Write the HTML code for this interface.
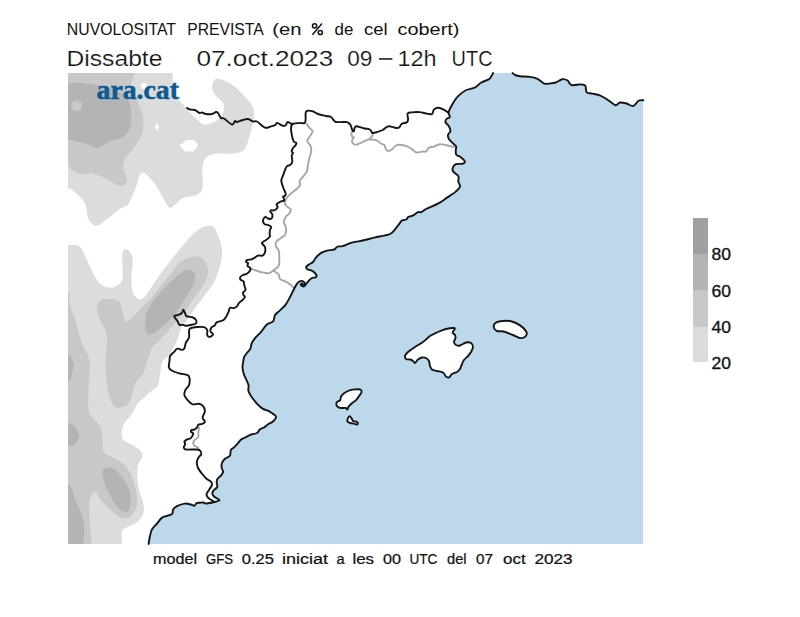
<!DOCTYPE html>
<html><head><meta charset="utf-8"><style>
html,body{margin:0;padding:0;background:#fff;}
body{width:800px;height:617px;position:relative;overflow:hidden;font-family:"Liberation Sans",sans-serif;}
svg{position:absolute;left:0;top:0;}
</style></head><body>
<svg width="800" height="617" viewBox="0 0 800 617">
<defs><clipPath id="mc"><rect x="68" y="73" width="575.4" height="471"/></clipPath></defs>
<rect x="68" y="73" width="575.4" height="471" fill="#fff"/>
<g clip-path="url(#mc)">
<path d="M68.0,73.0 C68.0,73.0 50.0,55.0 50.0,55.0 C50.0,55.0 172.5,55.0 172.5,55.0 C172.5,55.0 172.3,67.3 172.5,73.0 C172.7,78.7 172.6,85.2 173.5,89.4 C174.4,93.6 175.3,94.4 177.8,98.0 C180.3,101.6 184.9,106.9 188.5,110.8 C192.1,114.7 196.3,119.2 199.2,121.5 C202.0,123.8 202.4,125.0 205.6,124.7 C208.8,124.4 215.5,121.7 218.5,119.4 C221.5,117.1 223.1,113.7 223.8,110.8 C224.5,107.9 224.4,105.1 222.8,102.3 C221.2,99.5 216.0,96.6 214.2,93.7 C212.4,90.8 211.8,87.6 212.1,85.1 C212.4,82.6 214.2,79.4 216.3,78.7 C218.4,78.0 221.7,79.4 224.9,80.8 C228.1,82.2 232.4,84.8 235.6,87.3 C238.8,89.8 241.3,92.6 244.2,95.8 C247.0,99.0 251.1,102.9 252.7,106.5 C254.3,110.1 254.2,112.9 253.8,117.2 C253.5,121.5 252.2,126.8 250.6,132.2 C249.0,137.6 247.4,145.8 244.2,149.4 C241.0,153.0 236.0,152.9 231.3,153.6 C226.7,154.3 220.6,152.9 216.3,153.6 C212.0,154.3 207.9,155.4 205.6,157.9 C203.3,160.4 202.9,163.6 202.4,168.6 C201.9,173.6 203.4,183.7 202.6,188.0 C201.8,192.3 199.5,193.2 197.5,194.6 C195.5,196.0 193.2,195.8 190.6,196.5 C188.0,197.2 185.1,196.7 181.9,198.5 C178.7,200.3 174.1,206.7 171.5,207.6 C168.9,208.5 169.0,207.4 166.4,203.7 C163.8,200.0 159.5,190.6 156.0,185.6 C152.5,180.6 148.2,175.8 145.6,173.9 C143.0,172.0 141.9,172.0 140.4,173.9 C138.9,175.8 138.4,180.6 136.5,185.6 C134.6,190.6 131.5,199.8 128.7,203.7 C125.9,207.6 123.4,206.3 119.7,208.9 C116.0,211.5 110.6,216.5 106.7,219.3 C102.8,222.1 99.3,225.8 96.3,225.8 C93.3,225.8 90.2,222.6 88.5,219.3 C86.8,216.1 87.0,209.6 86.0,206.3 C85.0,203.0 84.4,202.0 82.5,199.6 C80.6,197.2 77.0,193.6 74.6,191.7 C72.2,189.8 72.1,188.9 68.0,188.4 C63.9,187.9 50.0,188.4 50.0,188.4 C50.0,188.4 50.0,55.0 50.0,55.0 C50.0,55.0 68.0,73.0 68.0,73.0 Z" fill="#dcdcdc"/>
<path d="M68.0,73.0 C68.0,73.0 50.0,55.0 50.0,55.0 C50.0,55.0 134.6,55.0 134.6,55.0 C134.6,55.0 134.9,69.1 134.6,73.0 C134.3,76.9 133.4,75.8 132.8,78.4 C132.2,81.0 130.2,84.8 131.1,88.8 C132.0,92.8 136.0,98.1 138.0,102.7 C140.0,107.3 142.4,111.7 143.2,116.6 C143.9,121.5 143.2,128.3 142.5,132.2 C141.8,136.1 140.1,137.4 138.7,140.0 C137.3,142.6 135.9,145.4 134.0,148.0 C132.1,150.6 129.2,153.5 127.5,155.7 C125.8,157.9 124.2,158.9 123.6,161.4 C122.9,163.9 123.1,168.0 123.6,170.4 C124.1,172.8 126.0,173.8 126.4,176.0 C126.8,178.2 127.1,182.3 125.8,183.9 C124.5,185.5 121.6,186.3 118.5,185.6 C115.4,184.8 111.3,181.4 107.2,179.4 C103.1,177.4 98.2,174.7 93.7,173.8 C89.2,172.9 84.0,174.6 80.2,173.8 C76.5,173.0 73.2,170.5 71.2,169.2 C69.2,167.9 71.5,166.5 68.0,166.0 C64.5,165.5 50.0,166.0 50.0,166.0 C50.0,166.0 50.0,55.0 50.0,55.0 C50.0,55.0 68.0,73.0 68.0,73.0 Z" fill="#c8c8c8"/>
<path d="M68.0,83.6 C72.8,83.4 74.1,82.4 79.1,82.7 C84.1,83.0 91.8,84.0 98.1,85.3 C104.4,86.6 112.3,88.2 117.2,90.5 C122.1,92.8 125.3,95.7 127.6,99.2 C129.9,102.7 130.7,106.7 131.1,111.3 C131.5,115.9 131.6,122.7 130.2,127.0 C128.8,131.3 125.7,135.1 122.4,137.4 C119.1,139.7 114.3,139.1 110.3,140.8 C106.2,142.5 101.9,147.2 98.1,147.8 C94.3,148.4 91.7,145.5 87.7,144.3 C83.7,143.1 77.2,141.5 73.9,140.8 C70.6,140.1 72.0,140.1 68.0,140.0 C64.0,139.9 50.0,140.0 50.0,140.0 C50.0,140.0 50.0,83.6 50.0,83.6 C50.0,83.6 63.1,83.8 68.0,83.6 Z" fill="#b4b4b4"/>
<circle cx="76.8" cy="105.8" r="5.5" fill="#c8c8c8"/>
<polygon points="179.6,145.5 186.6,140.1 194.3,140.1 198.1,145.5 193.5,151.4 185,151.4" fill="#fff"/>
<circle cx="143.8" cy="86" r="3" fill="#fff"/>
<rect x="156" y="124" width="2" height="6" fill="#fff"/><rect x="155" y="126" width="4" height="2" fill="#fff"/>
<path d="M68.0,245.2 C72.9,245.4 76.5,244.3 79.5,246.5 C82.5,248.7 83.2,252.8 86.0,258.2 C88.8,263.6 93.1,274.2 96.3,279.0 C99.5,283.8 102.4,285.4 105.4,286.7 C108.4,288.0 111.7,288.0 114.5,286.7 C117.3,285.4 121.0,284.2 122.3,279.0 C123.6,273.8 121.7,260.6 122.3,255.6 C122.9,250.6 124.4,248.7 126.1,249.1 C127.8,249.5 131.7,253.2 132.6,258.2 C133.5,263.2 131.1,272.9 131.3,279.0 C131.5,285.1 132.0,291.3 133.9,294.5 C135.8,297.7 138.9,301.4 143.0,298.4 C147.1,295.4 153.0,284.0 158.6,276.4 C164.2,268.8 170.6,260.4 176.7,253.0 C182.8,245.7 189.7,236.8 194.9,232.3 C200.1,227.8 204.5,226.2 207.9,225.8 C211.3,225.4 213.2,225.2 215.6,229.7 C218.0,234.2 222.1,244.8 222.1,253.0 C222.1,261.2 218.4,272.1 215.6,279.0 C212.8,285.9 209.2,289.0 205.3,294.5 C201.4,300.0 195.5,307.4 192.3,312.0 C189.1,316.6 187.7,319.7 186.0,322.0 C184.3,324.3 183.4,322.8 181.9,325.9 C180.4,329.0 179.2,335.6 177.0,340.5 C174.8,345.4 171.3,351.5 168.9,355.0 C166.5,358.5 163.9,358.3 162.4,361.6 C160.9,364.9 160.8,370.6 160.0,374.6 C159.2,378.7 159.4,382.9 157.6,385.9 C155.8,388.9 152.1,390.0 149.4,392.4 C146.7,394.8 143.1,398.4 141.3,400.0 C139.5,401.6 140.2,399.6 138.5,402.0 C136.8,404.4 133.7,410.9 131.3,414.5 C128.9,418.1 125.8,420.8 124.2,423.4 C122.7,426.0 122.2,427.4 122.0,430.0 C121.8,432.6 121.0,436.6 122.8,439.2 C124.6,441.8 129.9,443.3 132.9,445.3 C135.9,447.3 139.5,449.3 141.0,451.3 C142.5,453.3 142.5,455.0 142.0,457.4 C141.5,459.8 138.7,460.8 138.0,465.5 C137.3,470.2 137.2,479.7 138.0,485.8 C138.8,491.9 142.2,497.3 143.1,502.0 C143.9,506.7 144.1,510.7 143.1,514.1 C142.1,517.5 140.1,519.8 137.0,522.2 C133.9,524.6 127.3,526.6 124.8,528.3 C122.3,530.0 122.3,529.8 121.8,532.4 C121.3,535.0 121.8,539.4 121.8,544.0 C121.8,548.6 121.8,560.0 121.8,560.0 C121.8,560.0 50.0,560.0 50.0,560.0 C50.0,560.0 68.0,544.0 68.0,544.0 C68.0,544.0 50.0,560.0 50.0,560.0 C50.0,560.0 50.0,245.2 50.0,245.2 C50.0,245.2 63.1,245.0 68.0,245.2 Z" fill="#dcdcdc"/>
<path d="M181.9,260.8 C186.9,257.8 195.8,255.6 200.1,256.9 C204.4,258.2 207.0,264.5 207.9,268.6 C208.8,272.7 207.5,276.8 205.3,281.5 C203.1,286.2 198.8,291.5 194.9,297.1 C191.0,302.7 186.2,309.8 181.9,315.3 C177.6,320.8 172.5,325.9 168.8,330.0 C165.1,334.1 162.9,336.2 159.9,339.6 C156.9,343.0 153.7,345.0 151.0,350.3 C148.3,355.6 146.5,366.1 143.8,371.7 C141.1,377.3 137.3,379.1 134.9,384.2 C132.5,389.2 132.0,398.1 129.6,402.0 C127.2,405.9 123.3,406.8 120.6,407.4 C117.9,408.0 115.6,408.3 113.5,405.6 C111.4,402.9 109.5,398.1 108.2,391.3 C106.9,384.5 105.7,372.3 105.5,364.6 C105.3,356.9 106.8,349.8 107.0,345.0 C107.2,340.2 106.9,338.3 106.5,335.6 C106.1,332.9 105.6,331.1 104.6,328.8 C103.6,326.5 102.0,325.4 100.7,322.0 C99.4,318.6 97.0,311.7 96.8,308.3 C96.6,304.9 98.2,303.0 99.7,301.5 C101.2,300.0 103.2,299.4 105.6,299.1 C108.0,298.8 111.9,298.9 114.3,299.6 C116.7,300.3 118.7,301.1 120.2,303.5 C121.7,305.9 122.2,311.1 123.1,314.2 C124.0,317.3 124.2,321.2 125.5,322.0 C126.8,322.8 129.0,320.5 130.9,319.0 C132.8,317.5 134.4,315.6 136.7,313.2 C139.0,310.8 142.3,306.8 144.5,304.5 C146.7,302.2 147.3,302.7 150.0,299.6 C152.7,296.5 157.2,290.1 160.5,286.0 C163.8,281.9 166.4,279.2 170.0,275.0 C173.6,270.8 176.9,263.8 181.9,260.8 Z" fill="#c8c8c8"/>
<path d="M68.0,292.0 C71.2,293.8 68.8,299.7 69.5,303.0 C70.2,306.3 71.0,309.2 72.0,312.0 C73.0,314.8 73.6,315.1 75.2,320.0 C76.8,324.9 79.0,334.6 81.4,341.4 C83.8,348.2 88.2,352.7 89.4,361.0 C90.6,369.3 88.5,382.7 88.5,391.3 C88.5,399.9 87.3,406.6 89.4,412.7 C91.5,418.8 98.6,421.6 101.0,428.0 C103.4,434.4 101.0,446.1 103.6,451.3 C106.2,456.5 112.8,456.7 116.7,459.4 C120.6,462.1 123.9,463.1 126.9,467.5 C130.0,471.9 133.3,479.4 135.0,485.8 C136.7,492.2 138.0,500.8 137.0,506.0 C136.0,511.2 131.9,515.5 128.9,517.2 C125.9,518.9 123.2,518.7 118.8,516.2 C114.4,513.7 106.4,506.1 102.5,502.0 C98.6,497.9 97.5,492.6 95.5,491.9 C93.5,491.2 91.4,494.9 90.4,497.9 C89.4,500.9 89.2,502.4 89.4,510.1 C89.6,517.8 91.1,535.7 91.4,544.0 C91.7,552.3 91.4,560.0 91.4,560.0 C91.4,560.0 50.0,560.0 50.0,560.0 C50.0,560.0 68.0,544.0 68.0,544.0 C68.0,544.0 50.0,560.0 50.0,560.0 C50.0,560.0 50.0,292.0 50.0,292.0 C50.0,292.0 64.8,290.2 68.0,292.0 Z" fill="#c8c8c8"/>
<path d="M187.1,269.9 C190.1,269.5 193.8,271.4 194.9,273.8 C196.0,276.2 195.3,279.8 193.6,284.1 C191.9,288.4 187.8,294.5 184.5,299.7 C181.2,304.9 178.3,310.4 174.1,315.3 C169.9,320.2 163.0,326.1 159.2,329.2 C155.3,332.3 153.2,333.5 151.0,334.0 C148.8,334.5 147.1,334.3 146.2,332.4 C145.3,330.5 145.1,326.5 145.4,322.7 C145.7,318.9 145.6,314.4 147.8,309.7 C150.0,305.0 153.8,300.1 158.6,294.5 C163.4,288.9 171.9,280.5 176.7,276.4 C181.4,272.3 184.1,270.3 187.1,269.9 Z" fill="#b4b4b4"/>
<path d="M68.0,353.9 C71.9,355.4 72.8,359.2 73.4,362.8 C74.0,366.4 72.5,372.3 71.6,375.3 C70.7,378.3 71.6,379.7 68.0,380.6 C64.4,381.5 50.0,380.6 50.0,380.6 C50.0,380.6 50.0,353.9 50.0,353.9 C50.0,353.9 64.1,352.4 68.0,353.9 Z" fill="#b4b4b4"/>
<path d="M68.0,423.0 C71.9,423.4 71.8,424.1 73.6,425.7 C75.3,427.3 77.7,430.4 78.5,432.5 C79.3,434.6 79.3,436.3 78.5,438.4 C77.7,440.5 75.3,443.9 73.6,445.2 C71.8,446.5 71.9,445.9 68.0,446.0 C64.1,446.1 50.0,446.0 50.0,446.0 C50.0,446.0 50.0,423.0 50.0,423.0 C50.0,423.0 64.1,422.6 68.0,423.0 Z" fill="#b4b4b4"/>
<path d="M102.5,471.6 C103.2,468.2 107.5,466.8 110.6,467.5 C113.6,468.2 117.6,471.5 120.8,475.6 C124.0,479.7 128.4,486.5 129.9,491.9 C131.4,497.3 130.8,504.7 129.9,508.1 C129.1,511.5 127.0,512.5 124.8,512.1 C122.6,511.8 119.7,510.1 116.7,506.0 C113.7,501.9 109.0,493.5 106.6,487.8 C104.2,482.1 101.8,475.0 102.5,471.6 Z" fill="#b4b4b4"/>
<path d="M68.0,483.8 C72.4,486.8 73.8,496.6 76.2,502.0 C78.6,507.4 81.0,511.8 82.3,516.2 C83.6,520.6 84.1,523.7 84.3,528.3 C84.5,532.9 83.5,538.7 83.3,544.0 C83.1,549.3 83.3,560.0 83.3,560.0 C83.3,560.0 50.0,560.0 50.0,560.0 C50.0,560.0 68.0,544.0 68.0,544.0 C68.0,544.0 50.0,560.0 50.0,560.0 C50.0,560.0 50.0,483.8 50.0,483.8 C50.0,483.8 63.6,480.8 68.0,483.8 Z" fill="#b4b4b4"/>
<polygon points="493.1,73.0 512.5,73.0 515.0,75.0 520.0,76.3 530.0,76.9 537.5,78.8 542.5,82.5 545.2,83.8 550.0,83.5 555.7,82.5 562.3,79.2 567.6,80.5 571.5,85.1 580.7,84.4 585.3,85.7 586.6,92.3 592.5,93.6 600.4,95.6 608.2,100.2 615.5,105.2 620.0,102.5 626.6,103.5 633.2,106.1 638.4,100.8 643.4,100.2 643.4,544.0 148.6,544.0 149.9,536.3 152.0,529.4 157.2,523.4 162.4,517.4 171.8,514.3 173.1,509.6 177.0,506.2 184.7,503.6 190.7,504.5 194.2,505.7 196.7,503.2 200.0,502.7 203.6,502.5 205.6,503.5 209.5,503.0 214.3,502.0 219.2,500.6 218.2,499.1 214.3,496.7 212.4,493.8 213.3,490.9 217.2,487.0 216.8,483.1 217.2,479.2 221.1,475.3 223.1,471.9 221.6,467.5 222.1,462.6 225.0,458.8 229.9,455.8 230.9,450.0 233.8,447.6 237.4,443.9 241.1,439.6 245.4,437.4 251.3,434.5 257.1,433.0 260.0,429.3 264.4,427.2 268.1,424.2 273.2,421.3 276.1,416.9 273.2,414.0 268.8,411.1 263.0,408.9 257.1,403.8 251.3,396.5 248.4,390.7 248.4,384.8 244.0,374.6 242.5,367.3 243.2,362.0 244.1,357.1 246.9,353.0 250.3,348.9 251.7,343.4 255.2,337.9 260.7,332.3 264.8,326.8 267.5,324.1 273.1,321.3 275.1,315.1 280.0,310.3 285.5,304.8 289.6,297.9 294.4,288.3 296.9,283.9 299.3,281.5 302.6,281.1 304.6,283.1 303.8,285.5 301.4,285.5 300.8,284.1 302.3,283.6 302.6,286.3 305.0,285.5 307.4,282.3 311.5,278.2 315.6,277.4 316.4,275.0 312.3,270.9 307.4,269.3 306.2,266.9 309.1,264.4 313.1,262.0 315.6,258.0 319.6,253.9 325.3,251.1 331.8,249.9 335.0,249.1 337.4,246.6 342.5,246.1 351.0,242.9 363.7,240.3 374.4,237.6 385.0,235.4 391.4,233.3 397.7,225.9 402.0,220.6 406.2,219.5 408.4,216.9 412.6,215.7 417.9,212.1 421.1,212.1 426.3,208.9 437.9,203.7 447.4,197.4 455.8,191.6 460.0,186.8 458.4,181.6 458.4,176.3 453.7,172.1 452.6,168.4 455.8,164.2 463.2,163.7 464.7,161.1 461.1,157.4 456.3,154.7 455.8,150.0 456.2,146.6 453.3,143.7 448.9,138.9 448.0,135.0 450.4,131.1 448.9,126.2 445.5,122.4 446.5,119.0 449.9,117.0 448.5,112.6 451.3,106.3 455.0,100.0 460.0,94.4 466.3,90.0 475.0,87.5 481.3,82.5 488.8,79.4 491.3,76.3" fill="#bcd8ea"/>
</g>
<path d="M405.0,356.0 C405.3,354.8 406.3,353.5 408.0,352.0 C409.7,350.5 412.5,348.7 415.0,347.0 C417.5,345.3 420.5,343.8 423.0,342.0 C425.5,340.2 427.5,337.7 430.0,336.0 C432.5,334.3 435.3,333.2 438.0,332.0 C440.7,330.8 443.3,329.7 446.0,329.0 C448.7,328.3 452.6,327.9 454.0,328.0 C455.4,328.1 454.8,328.8 454.5,329.5 C454.2,330.2 452.4,331.6 452.5,332.5 C452.6,333.4 454.5,334.1 455.0,335.0 C455.5,335.9 455.7,336.8 455.5,338.0 C455.3,339.2 453.9,340.8 454.0,342.0 C454.1,343.2 455.0,344.4 456.0,345.0 C457.0,345.6 458.3,345.9 460.0,345.5 C461.7,345.1 464.2,342.9 466.0,342.5 C467.8,342.1 469.8,342.2 471.0,343.0 C472.2,343.8 473.0,345.5 473.0,347.0 C473.0,348.5 471.8,350.5 471.0,352.0 C470.2,353.5 469.2,354.7 468.0,356.0 C466.8,357.3 465.0,358.7 464.0,360.0 C463.0,361.3 462.7,362.5 462.0,364.0 C461.3,365.5 460.8,367.7 460.0,369.0 C459.2,370.3 458.3,371.2 457.0,372.0 C455.7,372.8 453.3,373.1 452.0,374.0 C450.7,374.9 450.0,377.1 449.0,377.5 C448.0,377.9 447.0,377.3 446.0,376.5 C445.0,375.7 444.5,373.4 443.0,372.5 C441.5,371.6 438.8,371.5 437.0,371.0 C435.2,370.5 433.2,370.3 432.0,369.5 C430.8,368.7 430.5,367.4 430.0,366.0 C429.5,364.6 429.7,362.3 429.0,361.0 C428.3,359.7 427.2,358.6 426.0,358.0 C424.8,357.4 423.3,357.2 422.0,357.5 C420.7,357.8 419.2,358.6 418.0,359.5 C416.8,360.4 415.8,362.8 415.0,363.0 C414.2,363.2 413.8,361.6 413.0,361.0 C412.2,360.4 411.2,359.8 410.0,359.5 C408.8,359.2 406.8,359.6 406.0,359.0 C405.2,358.4 404.7,357.2 405.0,356.0 Z" fill="#fff" stroke="#151515" stroke-width="1.9" fill="none" stroke-linejoin="round" stroke-linecap="round"/>
<path d="M494.7,323.6 C495.7,322.5 497.4,321.6 500.1,321.2 C502.8,320.8 507.7,320.5 511.0,321.2 C514.3,321.9 517.5,323.6 520.1,325.4 C522.7,327.2 525.5,330.0 526.4,331.8 C527.3,333.6 526.5,335.2 525.5,336.3 C524.5,337.4 522.2,338.3 520.1,338.1 C518.0,337.9 515.6,336.1 512.8,335.0 C510.0,333.9 506.1,332.2 503.5,331.5 C500.9,330.8 498.6,331.6 497.0,331.0 C495.4,330.4 494.4,329.2 494.0,328.0 C493.6,326.8 493.7,324.7 494.7,323.6 Z" fill="#fff" stroke="#151515" stroke-width="1.9" fill="none" stroke-linejoin="round" stroke-linecap="round"/>
<path d="M336.3,404.3 C336.2,403.5 336.6,402.6 337.2,401.9 C337.8,401.2 339.3,401.2 340.0,400.3 C340.7,399.4 340.5,397.4 341.2,396.2 C341.9,395.0 342.9,394.0 344.4,393.0 C345.9,392.0 348.1,390.7 350.1,390.1 C352.1,389.5 354.8,389.4 356.6,389.3 C358.4,389.2 359.9,389.2 360.7,389.7 C361.5,390.2 361.8,391.1 361.5,392.2 C361.2,393.3 359.9,394.8 359.0,396.2 C358.1,397.6 357.0,399.1 355.8,400.3 C354.6,401.5 352.9,402.4 351.7,403.5 C350.5,404.6 349.2,405.7 348.5,406.7 C347.8,407.7 347.8,409.4 347.3,409.6 C346.8,409.8 346.7,408.3 345.7,408.0 C344.7,407.7 342.5,408.2 341.2,408.0 C339.9,407.8 338.4,407.3 337.6,406.7 C336.8,406.1 336.4,405.1 336.3,404.3 Z" fill="#fff" stroke="#151515" stroke-width="1.9" fill="none" stroke-linejoin="round" stroke-linecap="round"/>
<path d="M349.3,416.1 C350.0,416.0 351.1,417.7 351.7,418.5 C352.3,419.3 352.2,420.4 353.0,420.9 C353.8,421.4 355.4,421.3 356.2,421.7 C357.0,422.1 357.7,422.5 357.8,423.0 C357.9,423.5 357.8,424.5 357.0,424.6 C356.2,424.7 354.1,423.7 353.0,423.4 C351.9,423.1 351.1,423.4 350.1,423.0 C349.2,422.6 347.7,422.0 347.3,421.3 C346.9,420.6 347.4,419.8 347.7,418.9 C348.0,418.0 348.6,416.2 349.3,416.1 Z" fill="#fff" stroke="#151515" stroke-width="1.9" fill="none" stroke-linejoin="round" stroke-linecap="round"/>
<path d="M306.6,123.9 C307.2,124.7 308.9,127.2 309.9,128.4 C310.9,129.6 312.3,130.0 312.5,131.0 C312.7,132.0 312.1,132.7 311.2,134.3 C310.3,135.9 307.4,138.9 307.3,140.8 C307.2,142.8 309.9,144.3 310.5,146.0 C311.1,147.7 311.4,149.0 311.2,151.2 C311.0,153.4 309.8,156.6 309.2,159.0 C308.6,161.4 308.3,163.3 307.9,165.5 C307.5,167.7 307.5,170.0 306.6,171.9 C305.7,173.8 303.9,175.6 302.7,177.1 C301.5,178.6 299.9,179.7 299.5,181.0 C299.1,182.3 300.5,183.6 300.1,184.9 C299.7,186.2 298.5,187.3 296.9,188.8 C295.3,190.3 292.0,192.6 290.4,194.0 C288.8,195.4 288.2,195.9 287.4,197.0 C286.6,198.1 285.8,199.5 285.4,200.7 C285.0,201.9 284.7,203.3 285.0,204.3 C285.3,205.3 286.4,205.9 287.4,206.8 C288.3,207.7 290.4,208.4 290.7,209.6 C291.0,210.8 289.9,212.6 289.1,213.7 C288.4,214.8 286.9,215.3 286.2,216.1 C285.5,216.9 285.4,217.4 285.0,218.5 C284.6,219.6 283.7,221.4 283.8,222.6 C283.9,223.8 285.0,224.6 285.4,225.8 C285.8,227.0 286.3,228.4 286.2,229.9 C286.1,231.4 285.6,233.5 285.0,234.7 C284.4,235.8 283.6,236.1 282.6,236.8 C281.7,237.6 280.3,238.4 279.3,239.2 C278.3,240.0 277.1,240.5 276.5,241.6 C275.9,242.7 275.4,244.5 275.8,246.0 C276.2,247.5 278.0,248.6 278.6,250.4 C279.2,252.2 279.3,254.3 279.3,256.9 C279.3,259.5 279.5,263.8 278.6,265.9 C277.7,268.0 275.7,268.6 274.1,269.8 C272.5,271.0 270.8,272.7 268.9,273.1 C266.9,273.5 264.6,272.8 262.4,272.4 C260.2,272.0 257.9,271.2 255.9,270.5 C253.9,269.8 251.3,268.7 250.4,268.3" stroke="#a6a6a6" stroke-width="1.9" fill="none" stroke-linejoin="round" stroke-linecap="round"/>
<path d="M274.1,270.0 C274.1,270.2 273.4,270.4 274.1,271.1 C274.9,271.8 277.6,273.1 278.6,274.4 C279.6,275.7 278.7,277.7 279.9,278.9 C281.1,280.1 284.1,280.6 285.7,281.5 C287.3,282.4 288.2,283.0 289.6,284.1 C291.0,285.2 293.4,287.4 294.2,288.0" stroke="#a6a6a6" stroke-width="1.9" fill="none" stroke-linejoin="round" stroke-linecap="round"/>
<path d="M353.1,131.1 C352.8,131.4 351.5,132.2 351.3,133.0 C351.1,133.8 351.6,135.2 352.0,136.0 C352.4,136.8 353.9,136.8 353.9,137.5 C353.9,138.2 352.1,139.4 352.0,140.5 C351.9,141.6 352.8,143.2 353.5,143.9 C354.2,144.6 355.0,144.9 356.5,144.6 C358.0,144.3 360.4,142.9 362.5,142.0 C364.6,141.1 367.7,140.0 369.3,139.0 C370.9,138.0 371.8,136.9 372.3,136.0 C372.9,135.1 372.6,133.8 372.6,133.4" stroke="#a6a6a6" stroke-width="1.9" fill="none" stroke-linejoin="round" stroke-linecap="round"/>
<path d="M370.0,139.4 C370.8,139.5 373.1,139.5 374.5,139.8 C375.9,140.1 377.3,140.7 378.3,141.3 C379.3,141.9 379.5,142.9 380.5,143.5 C381.5,144.1 383.4,144.1 384.3,145.0 C385.2,145.9 385.2,147.8 385.8,148.8 C386.4,149.8 387.0,150.9 388.0,151.0 C389.0,151.1 390.6,150.4 391.8,149.5 C393.1,148.6 394.1,146.6 395.5,145.8 C396.9,145.0 397.9,144.6 399.9,144.7 C401.9,144.8 405.5,145.8 407.6,146.6 C409.7,147.4 411.0,148.6 412.5,149.6 C414.0,150.6 414.6,152.2 416.4,152.5 C418.2,152.8 421.6,151.7 423.2,151.5 C424.8,151.3 425.1,152.2 426.1,151.5 C427.1,150.8 427.7,148.4 429.0,147.6 C430.3,146.8 432.1,147.2 433.9,146.6 C435.7,146.0 437.6,144.4 439.7,144.2 C441.8,144.0 444.1,144.7 446.5,145.2 C448.9,145.7 453.0,146.8 454.3,147.1" stroke="#a6a6a6" stroke-width="1.9" fill="none" stroke-linejoin="round" stroke-linecap="round"/>
<path d="M199.1,427.6 C199.0,428.5 198.4,431.1 198.3,432.7 C198.2,434.3 198.9,435.9 198.3,437.1 C197.7,438.3 195.5,439.0 194.7,440.0 C193.8,441.0 193.2,441.9 193.2,442.9 C193.2,443.9 194.0,445.2 194.7,445.9 C195.4,446.6 196.9,446.7 197.6,447.3 C198.3,447.9 198.8,449.1 199.1,449.5" stroke="#a6a6a6" stroke-width="1.9" fill="none" stroke-linejoin="round" stroke-linecap="round"/>
<path d="M148.6,544.0 C148.8,542.7 149.3,538.7 149.9,536.3 C150.5,533.9 150.8,531.5 152.0,529.4 C153.2,527.2 155.5,525.4 157.2,523.4 C158.9,521.4 160.0,518.9 162.4,517.4 C164.8,515.9 170.0,515.6 171.8,514.3 C173.6,513.0 172.2,511.0 173.1,509.6 C174.0,508.2 175.1,507.2 177.0,506.2 C178.9,505.2 182.4,503.9 184.7,503.6 C187.0,503.3 189.1,504.1 190.7,504.5 C192.3,504.9 193.2,505.9 194.2,505.7 C195.2,505.5 195.7,503.7 196.7,503.2 C197.7,502.7 198.8,502.8 200.0,502.7 C201.2,502.6 202.7,502.4 203.6,502.5 C204.5,502.6 204.6,503.4 205.6,503.5 C206.6,503.6 208.1,503.2 209.5,503.0 C210.9,502.8 212.7,502.4 214.3,502.0 C215.9,501.6 218.5,501.1 219.2,500.6 C219.8,500.1 219.0,499.8 218.2,499.1 C217.4,498.5 215.3,497.6 214.3,496.7 C213.3,495.8 212.6,494.8 212.4,493.8 C212.2,492.8 212.5,492.0 213.3,490.9 C214.1,489.8 216.6,488.3 217.2,487.0 C217.8,485.7 216.8,484.4 216.8,483.1 C216.8,481.8 216.5,480.5 217.2,479.2 C217.9,477.9 220.1,476.5 221.1,475.3 C222.1,474.1 223.0,473.2 223.1,471.9 C223.2,470.6 221.8,469.1 221.6,467.5 C221.4,465.9 221.5,464.1 222.1,462.6 C222.7,461.2 223.7,459.9 225.0,458.8 C226.3,457.7 228.9,457.3 229.9,455.8 C230.9,454.3 230.2,451.4 230.9,450.0 C231.6,448.6 232.7,448.6 233.8,447.6 C234.9,446.6 236.2,445.2 237.4,443.9 C238.6,442.6 239.8,440.7 241.1,439.6 C242.4,438.5 243.7,438.2 245.4,437.4 C247.1,436.5 249.4,435.2 251.3,434.5 C253.2,433.8 255.7,433.9 257.1,433.0 C258.6,432.1 258.8,430.3 260.0,429.3 C261.2,428.3 263.0,428.1 264.4,427.2 C265.8,426.3 266.6,425.2 268.1,424.2 C269.6,423.2 271.9,422.5 273.2,421.3 C274.5,420.1 276.1,418.1 276.1,416.9 C276.1,415.7 274.4,415.0 273.2,414.0 C272.0,413.0 270.5,412.0 268.8,411.1 C267.1,410.2 264.9,410.1 263.0,408.9 C261.1,407.7 259.1,405.9 257.1,403.8 C255.2,401.7 252.8,398.7 251.3,396.5 C249.9,394.3 248.9,392.6 248.4,390.7 C247.9,388.8 249.1,387.5 248.4,384.8 C247.7,382.1 245.0,377.5 244.0,374.6 C243.0,371.7 242.6,369.4 242.5,367.3 C242.4,365.2 242.9,363.7 243.2,362.0 C243.5,360.3 243.5,358.6 244.1,357.1 C244.7,355.6 245.9,354.4 246.9,353.0 C247.9,351.6 249.5,350.5 250.3,348.9 C251.1,347.3 250.9,345.2 251.7,343.4 C252.5,341.6 253.7,339.8 255.2,337.9 C256.7,336.0 259.1,334.1 260.7,332.3 C262.3,330.5 263.7,328.2 264.8,326.8 C265.9,325.4 266.1,325.0 267.5,324.1 C268.9,323.2 271.8,322.8 273.1,321.3 C274.4,319.8 274.0,316.9 275.1,315.1 C276.2,313.3 278.3,312.0 280.0,310.3 C281.7,308.6 283.9,306.9 285.5,304.8 C287.1,302.7 288.1,300.6 289.6,297.9 C291.1,295.1 293.2,290.6 294.4,288.3 C295.6,286.0 296.1,285.0 296.9,283.9 C297.7,282.8 298.4,282.0 299.3,281.5 C300.2,281.0 301.7,280.8 302.6,281.1 C303.5,281.4 304.4,282.4 304.6,283.1 C304.8,283.8 304.3,285.1 303.8,285.5 C303.3,285.9 301.9,285.7 301.4,285.5 C300.9,285.3 300.6,284.4 300.8,284.1 C301.0,283.8 302.0,283.2 302.3,283.6 C302.6,284.0 302.2,286.0 302.6,286.3 C303.1,286.6 304.2,286.2 305.0,285.5 C305.8,284.8 306.3,283.5 307.4,282.3 C308.5,281.1 310.1,279.0 311.5,278.2 C312.9,277.4 314.8,277.9 315.6,277.4 C316.4,276.9 316.9,276.1 316.4,275.0 C315.8,273.9 313.8,271.8 312.3,270.9 C310.8,269.9 308.4,270.0 307.4,269.3 C306.4,268.6 305.9,267.7 306.2,266.9 C306.5,266.1 308.0,265.2 309.1,264.4 C310.2,263.6 312.0,263.1 313.1,262.0 C314.2,260.9 314.5,259.4 315.6,258.0 C316.7,256.6 318.0,255.1 319.6,253.9 C321.2,252.8 323.3,251.8 325.3,251.1 C327.3,250.4 330.2,250.2 331.8,249.9 C333.4,249.6 334.1,249.7 335.0,249.1 C335.9,248.5 336.1,247.1 337.4,246.6 C338.6,246.1 340.2,246.7 342.5,246.1 C344.8,245.5 347.5,243.9 351.0,242.9 C354.5,241.9 359.8,241.2 363.7,240.3 C367.6,239.4 370.8,238.4 374.4,237.6 C377.9,236.8 382.2,236.1 385.0,235.4 C387.8,234.7 389.3,234.9 391.4,233.3 C393.5,231.7 395.9,228.0 397.7,225.9 C399.5,223.8 400.6,221.7 402.0,220.6 C403.4,219.5 405.1,220.1 406.2,219.5 C407.3,218.9 407.3,217.5 408.4,216.9 C409.5,216.3 411.0,216.5 412.6,215.7 C414.2,214.9 416.5,212.7 417.9,212.1 C419.3,211.5 419.7,212.6 421.1,212.1 C422.5,211.6 423.5,210.3 426.3,208.9 C429.1,207.5 434.4,205.6 437.9,203.7 C441.4,201.8 444.4,199.4 447.4,197.4 C450.4,195.4 453.7,193.4 455.8,191.6 C457.9,189.8 459.6,188.5 460.0,186.8 C460.4,185.1 458.7,183.3 458.4,181.6 C458.1,179.8 459.2,177.9 458.4,176.3 C457.6,174.7 454.7,173.4 453.7,172.1 C452.7,170.8 452.2,169.7 452.6,168.4 C453.0,167.1 454.0,165.0 455.8,164.2 C457.6,163.4 461.7,164.2 463.2,163.7 C464.7,163.2 465.0,162.1 464.7,161.1 C464.4,160.1 462.5,158.5 461.1,157.4 C459.7,156.3 457.2,155.9 456.3,154.7 C455.4,153.5 455.8,151.3 455.8,150.0 C455.8,148.7 456.6,147.7 456.2,146.6 C455.8,145.5 454.5,145.0 453.3,143.7 C452.1,142.4 449.8,140.3 448.9,138.9 C448.0,137.5 447.8,136.3 448.0,135.0 C448.2,133.7 450.2,132.6 450.4,131.1 C450.5,129.6 449.7,127.7 448.9,126.2 C448.1,124.8 445.9,123.6 445.5,122.4 C445.1,121.2 445.8,119.9 446.5,119.0 C447.2,118.1 449.6,118.1 449.9,117.0 C450.2,115.9 448.3,114.4 448.5,112.6 C448.7,110.8 450.2,108.4 451.3,106.3 C452.4,104.2 453.6,102.0 455.0,100.0 C456.4,98.0 458.1,96.1 460.0,94.4 C461.9,92.7 463.8,91.2 466.3,90.0 C468.8,88.8 472.5,88.8 475.0,87.5 C477.5,86.2 479.0,83.8 481.3,82.5 C483.6,81.2 487.1,80.4 488.8,79.4 C490.5,78.4 490.6,77.4 491.3,76.3 C492.0,75.2 492.8,73.5 493.1,73.0" stroke="#151515" stroke-width="1.9" fill="none" stroke-linejoin="round" stroke-linecap="round"/>
<path d="M512.5,73.0 C512.9,73.3 513.8,74.5 515.0,75.0 C516.2,75.5 517.5,76.0 520.0,76.3 C522.5,76.6 527.1,76.5 530.0,76.9 C532.9,77.3 535.4,77.9 537.5,78.8 C539.6,79.7 541.2,81.7 542.5,82.5 C543.8,83.3 544.0,83.6 545.2,83.8 C546.5,84.0 548.2,83.7 550.0,83.5 C551.8,83.3 553.7,83.2 555.7,82.5 C557.8,81.8 560.3,79.5 562.3,79.2 C564.3,78.9 566.1,79.5 567.6,80.5 C569.1,81.5 569.3,84.4 571.5,85.1 C573.7,85.8 578.4,84.3 580.7,84.4 C583.0,84.5 584.3,84.4 585.3,85.7 C586.3,87.0 585.4,91.0 586.6,92.3 C587.8,93.6 590.2,93.0 592.5,93.6 C594.8,94.1 597.8,94.5 600.4,95.6 C603.0,96.7 605.7,98.6 608.2,100.2 C610.7,101.8 613.5,104.8 615.5,105.2 C617.5,105.6 618.1,102.8 620.0,102.5 C621.9,102.2 624.4,102.9 626.6,103.5 C628.8,104.1 631.2,106.5 633.2,106.1 C635.2,105.6 636.7,101.8 638.4,100.8 C640.1,99.8 642.6,100.3 643.4,100.2" stroke="#151515" stroke-width="1.9" fill="none" stroke-linejoin="round" stroke-linecap="round"/>
<path d="M187.0,108.0 C187.5,108.2 188.7,109.2 190.0,109.5 C191.3,109.8 193.4,109.4 195.0,110.0 C196.6,110.6 198.3,112.6 199.5,113.0 C200.7,113.4 200.9,112.3 202.0,112.5 C203.1,112.7 204.3,113.8 206.0,114.0 C207.7,114.2 210.3,114.3 212.0,114.0 C213.7,113.7 215.0,112.2 216.0,112.0 C217.0,111.8 217.2,112.0 218.0,113.0 C218.8,114.0 220.0,117.1 221.0,118.0 C222.0,118.9 222.2,117.4 224.0,118.5 C225.8,119.6 230.2,124.1 232.0,124.5 C233.8,124.9 234.2,121.4 235.0,121.0 C235.8,120.6 235.7,122.2 237.0,122.0 C238.3,121.8 241.2,120.5 243.0,120.0 C244.8,119.5 246.3,118.8 248.0,119.0 C249.7,119.2 251.5,121.1 253.0,121.5 C254.5,121.9 255.0,120.5 257.0,121.5 C259.0,122.5 262.6,126.8 264.9,127.6 C267.2,128.4 269.2,126.8 271.0,126.4 C272.8,126.0 274.4,125.6 275.4,125.0 C276.4,124.4 275.8,122.8 277.1,122.9 C278.4,123.1 281.8,125.6 283.3,125.9 C284.8,126.2 285.2,125.7 285.9,125.0 C286.6,124.3 286.9,122.2 287.6,121.9 C288.3,121.6 289.4,123.0 290.3,123.3 C291.2,123.6 291.4,123.9 292.9,123.8 C294.3,123.7 297.0,123.1 299.0,122.9 C301.0,122.7 304.0,124.1 305.1,122.4 C306.2,120.7 305.2,114.8 305.7,112.8 C306.1,110.8 306.6,110.9 307.8,110.7 C309.0,110.5 311.3,110.9 313.0,111.4 C314.7,112.0 315.8,113.2 318.0,114.0 C320.2,114.8 323.8,115.5 326.0,116.0 C328.2,116.5 329.5,116.1 331.0,117.0 C332.5,117.9 333.5,120.8 335.0,121.6 C336.5,122.4 338.0,122.0 340.0,122.1 C342.0,122.2 345.2,121.8 346.8,122.1 C348.4,122.4 349.1,123.2 349.8,124.0 C350.6,124.8 350.9,125.9 351.3,127.0 C351.7,128.1 352.0,129.7 352.4,130.4 C352.8,131.1 353.5,131.5 353.9,131.1 C354.3,130.7 354.2,128.6 354.6,127.8 C355.0,127.0 355.4,126.4 356.5,126.3 C357.6,126.2 359.6,127.0 361.0,127.4 C362.4,127.8 363.6,128.2 364.8,128.5 C366.1,128.8 367.5,128.6 368.5,128.9 C369.5,129.2 370.1,129.7 370.8,130.4 C371.5,131.1 371.5,132.8 372.6,133.0 C373.7,133.2 375.8,132.4 377.5,131.9 C379.2,131.4 381.2,130.9 382.8,130.0 C384.4,129.1 385.9,127.2 387.3,126.6 C388.7,126.0 389.7,126.4 391.0,126.6 C392.3,126.8 393.7,127.5 395.0,127.7 C396.3,127.9 397.8,128.3 398.9,127.7 C400.0,127.0 400.5,124.7 401.8,123.8 C403.1,122.9 405.6,123.1 406.7,122.4 C407.8,121.7 408.0,120.9 408.1,119.4 C408.2,117.9 407.0,114.8 407.6,113.6 C408.2,112.4 409.6,112.7 411.5,112.4 C413.4,112.2 416.7,111.9 419.3,112.1 C421.9,112.3 425.0,113.3 427.1,113.6 C429.2,113.9 430.8,114.8 431.9,114.1 C433.0,113.4 432.9,110.8 433.9,109.7 C434.9,108.7 436.5,108.0 437.8,107.8 C439.1,107.6 439.8,107.9 441.6,108.7 C443.4,109.5 447.4,111.9 448.5,112.6" stroke="#151515" stroke-width="1.9" fill="none" stroke-linejoin="round" stroke-linecap="round"/>
<path d="M292.3,123.9 C292.1,124.6 291.1,126.1 291.0,127.8 C290.9,129.5 291.3,132.0 291.7,134.3 C292.1,136.6 292.9,140.0 293.6,141.4 C294.4,142.8 295.9,142.0 296.2,142.7 C296.5,143.3 296.1,144.4 295.6,145.3 C295.1,146.2 293.6,146.9 293.0,147.9 C292.4,148.9 291.7,150.3 291.7,151.2 C291.7,152.1 293.0,152.3 293.0,153.1 C293.0,153.8 291.8,154.3 291.7,155.7 C291.6,157.1 292.5,160.1 292.3,161.6 C292.1,163.1 291.3,164.1 290.4,164.8 C289.5,165.6 288.0,165.3 287.1,166.1 C286.2,166.9 285.7,168.2 285.2,169.4 C284.7,170.6 284.4,171.7 283.9,173.2 C283.3,174.7 282.3,177.1 281.9,178.4 C281.5,179.7 281.1,179.5 281.3,181.0 C281.5,182.5 282.4,185.3 283.2,187.5 C283.9,189.7 285.7,192.5 285.8,194.0 C285.9,195.5 284.4,196.2 283.9,196.6 C283.4,197.0 283.0,196.3 283.0,196.6 C283.0,196.9 283.6,197.9 283.8,198.6 C284.0,199.3 284.5,200.3 284.2,200.7 C283.9,201.1 282.8,200.8 281.8,201.1 C280.9,201.4 279.4,202.1 278.5,202.7 C277.6,203.3 276.6,203.9 276.5,204.7 C276.4,205.4 277.8,206.4 277.7,207.2 C277.6,207.9 276.7,208.7 276.1,209.2 C275.5,209.7 275.0,210.2 274.1,210.4 C273.2,210.6 271.4,210.1 270.8,210.4 C270.2,210.7 270.2,211.4 270.4,212.0 C270.6,212.6 271.7,212.9 272.0,213.7 C272.3,214.5 272.6,216.0 272.4,216.9 C272.2,217.8 271.5,218.6 270.8,218.9 C270.1,219.2 268.9,218.8 268.0,218.5 C267.1,218.2 266.2,216.8 265.5,216.9 C264.8,217.0 263.9,218.1 263.5,218.9 C263.1,219.7 262.9,220.9 263.1,221.8 C263.3,222.7 263.9,223.7 264.7,224.2 C265.5,224.7 266.9,224.5 268.0,225.0 C269.1,225.5 270.9,226.2 271.2,227.0 C271.5,227.8 270.3,228.8 270.0,229.9 C269.7,231.1 269.6,232.8 269.6,233.9 C269.6,235.0 270.4,235.5 270.0,236.4 C269.6,237.3 268.2,238.4 267.2,239.2 C266.2,240.0 264.8,240.6 263.9,241.2 C263.0,241.8 262.1,242.4 261.9,242.8 C261.6,243.2 261.9,243.2 262.4,243.9 C262.9,244.6 264.6,245.7 265.0,247.1 C265.4,248.5 265.4,250.9 265.0,252.3 C264.6,253.7 263.6,255.1 262.4,255.6 C261.2,256.1 259.3,255.2 257.9,255.6 C256.5,256.0 255.1,257.5 254.0,258.1 C252.9,258.7 252.6,259.1 251.4,259.4 C250.2,259.7 247.8,259.7 246.9,260.1 C246.0,260.5 246.0,261.5 246.2,262.0 C246.4,262.5 247.9,262.7 248.1,263.3 C248.3,263.9 247.2,265.1 247.5,265.9 C247.8,266.7 249.7,267.1 250.1,267.9 C250.5,268.7 250.6,269.5 250.1,270.5 C249.6,271.5 248.1,272.9 246.9,273.7 C245.7,274.4 244.1,274.5 243.0,275.0 C241.9,275.5 240.8,276.1 240.4,276.9 C240.0,277.6 239.9,278.7 240.4,279.5 C240.9,280.3 242.9,280.5 243.6,281.5 C244.2,282.5 244.0,284.0 244.3,285.4 C244.6,286.8 245.8,288.7 245.6,289.9 C245.4,291.1 243.3,291.6 243.0,292.5 C242.7,293.4 243.3,294.4 243.6,295.1 C243.9,295.9 245.0,296.2 244.9,297.0 C244.8,297.8 244.0,298.6 243.0,299.6 C242.0,300.6 240.1,301.8 239.1,302.9 C238.1,304.0 238.0,305.2 237.1,306.1 C236.2,307.0 235.1,307.8 233.9,308.1 C232.7,308.4 230.8,307.2 229.9,307.8 C229.0,308.4 229.2,310.2 228.6,311.7 C227.9,313.2 226.9,315.5 226.0,316.9 C225.1,318.3 224.5,319.4 223.4,320.1 C222.3,320.9 220.7,321.0 219.5,321.4 C218.3,321.8 217.0,322.0 216.2,322.7 C215.4,323.4 215.7,324.6 214.9,325.3 C214.2,326.1 212.4,326.2 211.7,327.2 C210.9,328.2 210.2,329.9 210.4,331.1 C210.6,332.3 213.1,333.4 213.0,334.4 C212.9,335.4 210.7,336.9 209.7,337.0 C208.7,337.1 207.6,336.2 207.2,335.0 C206.8,333.8 207.8,331.1 207.2,329.8 C206.6,328.5 205.5,327.7 203.9,327.2 C202.3,326.7 199.7,326.8 197.4,327.0 C195.1,327.2 191.7,327.6 190.3,328.4 C188.9,329.1 189.2,330.0 189.0,331.5 C188.8,333.0 189.5,335.7 189.0,337.6 C188.5,339.5 186.6,341.1 185.8,342.8 C185.1,344.5 185.1,346.8 184.5,348.0 C183.9,349.2 183.7,349.8 182.5,349.9 C181.3,350.0 178.7,348.3 177.3,348.6 C175.9,348.9 175.3,350.7 174.1,351.9 C172.9,353.1 171.0,354.3 170.2,355.8 C169.4,357.3 169.7,359.1 169.5,361.0 C169.3,362.9 168.5,365.8 168.9,367.4 C169.3,369.0 170.4,369.7 172.1,370.7 C173.8,371.7 176.7,372.6 179.3,373.3 C181.9,374.1 186.0,374.3 187.7,375.2 C189.4,376.1 189.3,377.4 189.6,378.5 C189.9,379.6 189.7,380.6 189.6,381.7 C189.5,382.8 189.6,383.9 188.9,385.3 C188.2,386.8 185.9,388.7 185.2,390.4 C184.5,392.1 184.0,393.8 184.5,395.5 C185.0,397.2 186.8,399.1 188.1,400.6 C189.4,402.1 190.8,403.8 192.5,404.3 C194.2,404.8 196.6,403.6 198.3,403.8 C200.0,404.0 201.6,404.5 202.7,405.7 C203.8,406.9 204.8,409.2 204.9,410.8 C205.0,412.4 203.8,414.0 203.4,415.2 C203.0,416.4 202.4,417.0 202.7,418.1 C202.9,419.2 205.0,420.8 204.9,421.8 C204.8,422.8 203.1,423.5 202.0,424.0 C200.9,424.5 199.2,424.1 198.3,424.7 C197.5,425.3 197.6,426.8 196.9,427.6 C196.2,428.5 194.8,429.4 194.0,429.8 C193.2,430.2 192.3,429.4 191.8,429.8 C191.3,430.2 190.8,431.4 191.0,432.0 C191.2,432.6 193.2,432.5 193.2,433.5 C193.2,434.5 192.0,436.8 191.0,437.8 C190.0,438.8 188.5,438.7 187.4,439.3 C186.3,439.9 184.9,440.6 184.5,441.5 C184.1,442.4 185.3,443.4 185.2,444.4 C185.1,445.4 183.7,446.4 183.8,447.3 C183.9,448.2 183.7,449.1 185.9,449.5 C188.1,449.9 194.5,449.2 196.9,449.5 C199.3,449.8 199.8,450.1 200.5,451.0 C201.2,451.9 201.3,454.0 201.3,454.6 C201.3,455.2 201.3,454.2 200.7,454.9 C200.1,455.6 198.5,457.5 197.8,458.8 C197.2,460.1 196.8,461.2 196.8,462.6 C196.8,464.1 197.0,465.7 197.8,467.5 C198.6,469.3 200.2,471.4 201.7,473.3 C203.1,475.2 205.0,477.3 206.5,478.7 C208.0,480.1 210.0,480.6 210.9,481.6 C211.8,482.7 212.2,483.6 211.9,485.0 C211.6,486.4 209.9,488.3 209.0,489.9 C208.1,491.4 206.7,493.0 206.5,494.3 C206.3,495.6 207.2,496.7 208.0,497.7 C208.8,498.7 210.4,499.5 211.4,500.1 C212.4,500.8 213.4,501.4 213.8,501.6" stroke="#151515" stroke-width="1.9" fill="none" stroke-linejoin="round" stroke-linecap="round"/>
<path d="M174.1,316.2 C174.2,315.2 176.7,315.4 178.0,314.9 C179.3,314.4 181.0,313.9 181.9,313.0 C182.8,312.1 182.7,309.7 183.2,309.7 C183.7,309.7 184.6,311.9 185.1,313.0 C185.6,314.1 185.1,315.4 186.4,316.2 C187.7,316.9 191.3,316.9 192.9,317.5 C194.5,318.1 195.6,319.1 196.1,320.1 C196.6,321.1 196.8,322.5 196.1,323.3 C195.4,324.1 193.8,324.3 192.2,324.7 C190.6,325.1 187.9,325.8 186.4,325.8 C184.9,325.8 184.4,325.1 183.2,324.9 C182.0,324.7 180.3,325.3 179.3,324.6 C178.3,323.9 178.2,322.2 177.3,320.8 C176.4,319.4 174.0,317.2 174.1,316.2 Z" stroke="#151515" stroke-width="1.9" fill="none" stroke-linejoin="round" stroke-linecap="round"/>
<g font-family="Liberation Sans, sans-serif" fill="#111">
<text x="66.8" y="35.0" font-size="16.5"  textLength="109.2" lengthAdjust="spacingAndGlyphs">NUVOLOSITAT</text>
<text x="187.2" y="35.0" font-size="16.5"  textLength="76.6" lengthAdjust="spacingAndGlyphs">PREVISTA</text>
<text x="272.2" y="35.0" font-size="16.5"  textLength="29.2" lengthAdjust="spacingAndGlyphs">(en</text>
<text x="334.6" y="35.0" font-size="16.5"  textLength="18.8" lengthAdjust="spacingAndGlyphs">de</text>
<text x="364.0" y="35.0" font-size="16.5"  textLength="23.6" lengthAdjust="spacingAndGlyphs">cel</text>
<text x="397.6" y="35.0" font-size="16.5"  textLength="61.8" lengthAdjust="spacingAndGlyphs">cobert)</text>
<text x="66.5" y="65.9" font-size="21.6" stroke="#fff" stroke-width="0.2" textLength="95.9" lengthAdjust="spacingAndGlyphs">Dissabte</text>
<text x="196.5" y="65.9" font-size="21.6" stroke="#fff" stroke-width="0.2" textLength="136.7" lengthAdjust="spacingAndGlyphs">07.oct.2023</text>
<text x="347.2" y="65.9" font-size="21.6" stroke="#fff" stroke-width="0.2" textLength="25.2" lengthAdjust="spacingAndGlyphs">09</text>
<text x="397.4" y="65.9" font-size="21.6" stroke="#fff" stroke-width="0.2" textLength="39.2" lengthAdjust="spacingAndGlyphs">12h</text>
<text x="451.6" y="65.9" font-size="21.6" stroke="#fff" stroke-width="0.2" textLength="41.0" lengthAdjust="spacingAndGlyphs">UTC</text>
<text x="153" y="563.9" font-size="13.8" stroke="#111" stroke-width="0.22" textLength="44.0" lengthAdjust="spacingAndGlyphs">model</text>
<text x="206" y="563.9" font-size="13.8" stroke="#111" stroke-width="0.22" textLength="27.0" lengthAdjust="spacingAndGlyphs">GFS</text>
<text x="241.8" y="563.9" font-size="13.8" stroke="#111" stroke-width="0.22" textLength="32.2" lengthAdjust="spacingAndGlyphs">0.25</text>
<text x="282" y="563.9" font-size="13.8" stroke="#111" stroke-width="0.22" textLength="46.0" lengthAdjust="spacingAndGlyphs">iniciat</text>
<text x="336.5" y="563.9" font-size="13.8" stroke="#111" stroke-width="0.22" textLength="8.1" lengthAdjust="spacingAndGlyphs">a</text>
<text x="352.4" y="563.9" font-size="13.8" stroke="#111" stroke-width="0.22" textLength="21.6" lengthAdjust="spacingAndGlyphs">les</text>
<text x="383" y="563.9" font-size="13.8" stroke="#111" stroke-width="0.22" textLength="18.0" lengthAdjust="spacingAndGlyphs">00</text>
<text x="409.6" y="563.9" font-size="13.8" stroke="#111" stroke-width="0.22" textLength="27.8" lengthAdjust="spacingAndGlyphs">UTC</text>
<text x="447" y="563.9" font-size="13.8" stroke="#111" stroke-width="0.22" textLength="19.6" lengthAdjust="spacingAndGlyphs">del</text>
<text x="476" y="563.9" font-size="13.8" stroke="#111" stroke-width="0.22" textLength="17.0" lengthAdjust="spacingAndGlyphs">07</text>
<text x="503" y="563.9" font-size="13.8" stroke="#111" stroke-width="0.22" textLength="22.6" lengthAdjust="spacingAndGlyphs">oct</text>
<text x="534.4" y="563.9" font-size="13.8" stroke="#111" stroke-width="0.22" textLength="38.2" lengthAdjust="spacingAndGlyphs">2023</text>
<rect x="379" y="58.2" width="13.4" height="1.5"/>
<g fill="none" stroke="#111" stroke-width="1.5"><circle cx="314.6" cy="25.8" r="2.1"/><circle cx="320.3" cy="32.5" r="2.1"/><path d="M322 23.6L312.4 34.8"/></g>
</g>
<text x="96.5" y="98.6" font-family="Liberation Serif, serif" font-weight="bold" font-size="27" fill="#0b5a94" stroke="#0b5a94" stroke-width="0.5" textLength="82.5" lengthAdjust="spacingAndGlyphs">ara.cat</text>
<rect x="693" y="218" width="15" height="36" fill="#a0a0a0"/>
<rect x="693" y="254" width="15" height="36" fill="#b4b4b4"/>
<rect x="693" y="290" width="15" height="37" fill="#c8c8c8"/>
<rect x="693" y="327" width="15" height="35" fill="#dcdcdc"/>
<g font-family="Liberation Sans, sans-serif" font-size="16.5" fill="#111" stroke="#111" stroke-width="0.3">
<text x="711.5" y="260.2" textLength="19.5" lengthAdjust="spacingAndGlyphs">80</text>
<text x="711.5" y="296.6" textLength="19.5" lengthAdjust="spacingAndGlyphs">60</text>
<text x="711.5" y="333.1" textLength="19.5" lengthAdjust="spacingAndGlyphs">40</text>
<text x="711.5" y="369.3" textLength="19.5" lengthAdjust="spacingAndGlyphs">20</text>
</g>
</svg>
</body></html>
